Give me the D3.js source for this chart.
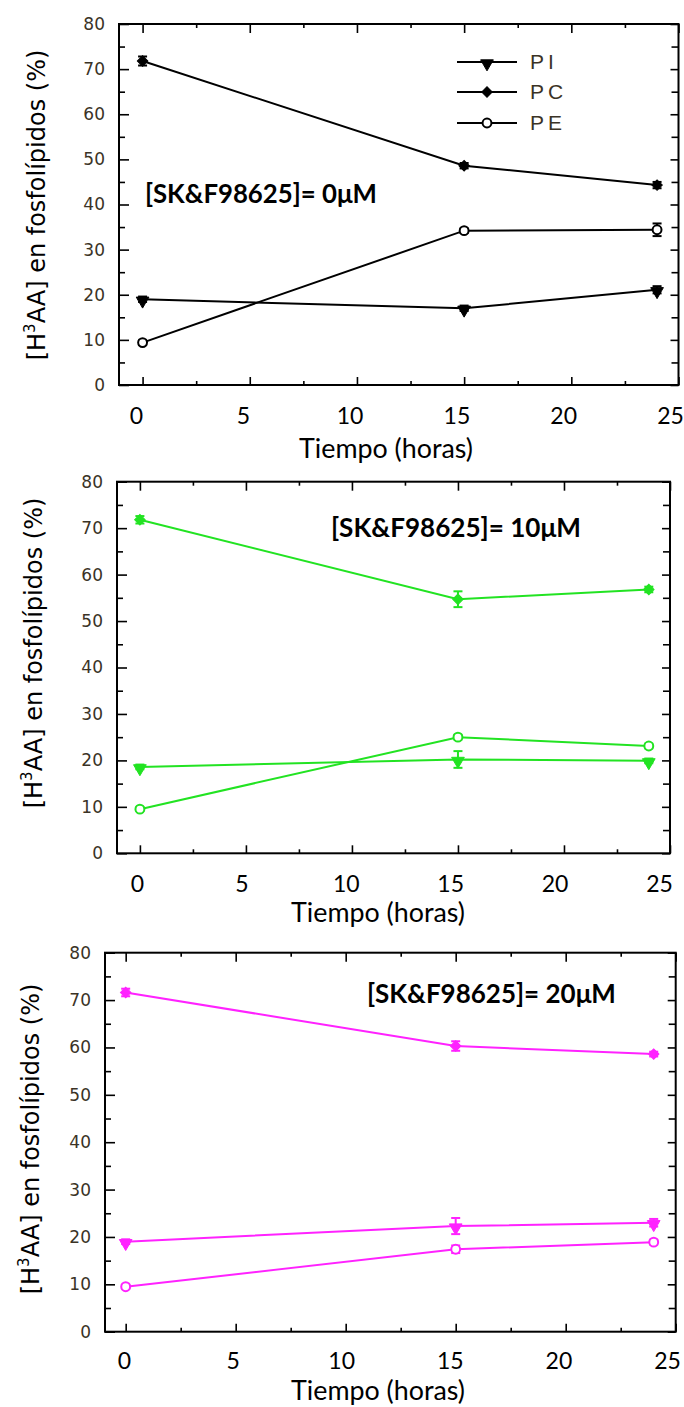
<!DOCTYPE html>
<html><head><meta charset="utf-8">
<script src="https://cdn.jsdelivr.net/npm/d3@7"></script>
<style>body{margin:0;background:#fff} svg{display:block}</style>
</head><body><svg id="c" width="684" height="1407"></svg>
<script>
// ---- data ----
const times = [0, 15, 24];
const seriesNames = ["PI", "PC", "PE"];
const concentrations = ["[SK&F98625]= 0μM", "[SK&F98625]= 10μM", "[SK&F98625]= 20μM"];
const yTicks = [0, 10, 20, 30, 40, 50, 60, 70, 80];
const yMinorTicks = [5, 15, 25, 35, 45, 55, 65, 75];
const xTicks = [0, 5, 10, 15, 20, 25];
const xMinorTicks = [2.5, 7.5, 12.5, 17.5, 22.5];
const xLabel = "Tiempo (horas)";

const pi0 = [19.0, 17.0, 21.1], pi0Err = [0.6, 0.6, 0.8];
const pc0 = [71.8, 48.6, 44.3], pc0Err = [1.0, 0.6, 0.7];
const pe0 = [9.4, 34.2, 34.4], pe0Err = [0.5, 0.5, 1.4];

const pi10 = [18.6, 20.2, 19.9], pi10Err = [0.5, 1.8, 0.5];
const pc10 = [71.8, 54.7, 56.8], pc10Err = [0.8, 1.7, 0.6];
const pe10 = [9.5, 25.0, 23.1], pe10Err = [0.4, 0.5, 0.5];

const pi20 = [19.0, 22.3, 23.0], pi20Err = [0.5, 1.7, 0.8];
const pc20 = [71.6, 60.3, 58.6], pc20Err = [0.8, 1.0, 0.5];
const pe20 = [9.5, 17.4, 18.9], pe20Err = [0.4, 0.8, 0.5];

// ---- layout ----
const panels = [
  {left: 119, right: 678.5, top: 24, bottom: 385, xmin: -1.1, color: "#000",
   vals: [pi0, pc0, pe0], errs: [pi0Err, pc0Err, pe0Err], conc: concentrations[0],
   ann: {x: 145, y: 203, w: 232}, lab: {x0: 136, x1: 670, y: 424},
   title: {x: 386, y: 458}, ytitle: {x: 45, y: 205}, legend: true},
  {left: 117, right: 670, top: 481.7, bottom: 853.3, xmin: -1.08, color: "#22e322",
   vals: [pi10, pc10, pe10], errs: [pi10Err, pc10Err, pe10Err], conc: concentrations[1],
   ann: {x: 331, y: 537, w: 250}, lab: {x0: 137, x1: 659, y: 892},
   title: {x: 378, y: 922}, ytitle: {x: 42, y: 653}, legend: false},
  {left: 105, right: 675.7, top: 952.7, bottom: 1331.7, xmin: -0.94, color: "#ff22ff",
   vals: [pi20, pc20, pe20], errs: [pi20Err, pc20Err, pe20Err], conc: concentrations[2],
   ann: {x: 367, y: 1003, w: 249}, lab: {x0: 124, x1: 667, y: 1369},
   title: {x: 378, y: 1400}, ytitle: {x: 39, y: 1139}, legend: false}
];

const svg = d3.select("#c");
const symbolFor = {
  PI: {type: d3.symbolTriangle, size: 70, rot: 180, fill: true},
  PC: {type: d3.symbolSquare, size: 55, rot: 45, fill: true},
  PE: {type: d3.symbolCircle, size: 62, rot: 0, fill: false}
};

function fitText(sel, target) {
  const node = sel.node();
  const fs = parseFloat(sel.attr("font-size"));
  const w = node.getComputedTextLength();
  if (w > 0) sel.attr("font-size", (fs * target / w).toFixed(2));
}

panels.forEach(p => {
  const x = d3.scaleLinear().domain([p.xmin, 25]).range([p.left, p.right]);
  const y = d3.scaleLinear().domain([0, 80]).range([p.bottom, p.top]);
  const xl = d3.scaleLinear().domain([0, 25]).range([p.lab.x0, p.lab.x1]);
  const g = svg.append("g");

  const tickStyle = s => { s.select(".domain").remove(); s.selectAll("line").attr("stroke", "#000").attr("stroke-width", 1.6); s.selectAll("text").remove(); };
  g.append("g").attr("transform", `translate(${p.left},0)`).call(d3.axisLeft(y).tickValues(yTicks).tickSize(-10)).call(tickStyle);
  g.append("g").attr("transform", `translate(${p.left},0)`).call(d3.axisLeft(y).tickValues(yMinorTicks).tickSize(-6)).call(tickStyle);
  g.append("g").attr("transform", `translate(${p.right},0)`).call(d3.axisRight(y).tickValues(yTicks).tickSize(-8)).call(tickStyle);
  g.append("g").attr("transform", `translate(${p.right},0)`).call(d3.axisRight(y).tickValues(yMinorTicks).tickSize(-7)).call(tickStyle);
  g.append("g").attr("transform", `translate(0,${p.bottom})`).call(d3.axisBottom(x).tickValues(xTicks).tickSize(-8)).call(tickStyle);
  g.append("g").attr("transform", `translate(0,${p.bottom})`).call(d3.axisBottom(x).tickValues(xMinorTicks).tickSize(-4)).call(tickStyle);
  g.append("g").attr("transform", `translate(0,${p.top})`).call(d3.axisTop(x).tickValues(xTicks).tickSize(-9)).call(tickStyle);
  g.append("g").attr("transform", `translate(0,${p.top})`).call(d3.axisTop(x).tickValues(xMinorTicks).tickSize(-4)).call(tickStyle);

  g.append("rect").attr("x", p.left).attr("y", p.top)
    .attr("width", p.right - p.left).attr("height", p.bottom - p.top)
    .attr("fill", "none").attr("stroke", "#000").attr("stroke-width", 2);

  const ya = g.append("g").attr("transform", `translate(${p.left},0)`)
    .call(d3.axisLeft(y).tickValues(yTicks).tickSize(0).tickPadding(14));
  ya.select(".domain").remove();
  ya.selectAll("text").attr("font-family", "DejaVu Sans").attr("font-size", 17).attr("fill", "#3b3326");

  const xa = g.append("g").attr("transform", `translate(0,${p.lab.y})`)
    .call(d3.axisBottom(xl).tickValues(xTicks).tickSize(0).tickPadding(0));
  xa.select(".domain").remove();
  xa.selectAll("text").attr("font-family", "Lato").attr("font-size", 23).attr("fill", "#000").attr("dy", 0);

  const xt = g.append("text").attr("x", p.title.x).attr("y", p.title.y)
    .attr("text-anchor", "middle").attr("font-family", "Lato").attr("font-size", 25).attr("fill", "#000")
    .text(xLabel);
  fitText(xt, 174);

  const yt = g.append("text").attr("transform", `translate(${p.ytitle.x},${p.ytitle.y}) rotate(-90)`)
    .attr("text-anchor", "middle").attr("font-family", "DejaVu Sans").attr("font-size", 24).attr("fill", "#000");
  yt.append("tspan").text("[H");
  yt.append("tspan").attr("font-size", 15).attr("dy", -10).text("3");
  yt.append("tspan").attr("dy", 10).text("AA] en fosfolípidos (%)");

  const an = g.append("text").attr("x", p.ann.x).attr("y", p.ann.y)
    .attr("font-family", "Lato").attr("font-weight", "bold").attr("font-size", 24).attr("fill", "#000")
    .text(p.conc);
  fitText(an, p.ann.w);

  const line = d3.line().x(d => x(d[0])).y(d => y(d[1]));
  seriesNames.forEach((name, i) => {
    const pts = times.map((t, j) => [t, p.vals[i][j], p.errs[i][j]]);
    const sg = g.append("g");
    sg.append("path").datum(pts).attr("d", line).attr("fill", "none")
      .attr("stroke", p.color).attr("stroke-width", 2);
    pts.forEach(d => {
      const cx = x(d[0]), y1 = y(d[1] + d[2]), y2 = y(d[1] - d[2]);
      sg.append("line").attr("x1", cx).attr("x2", cx).attr("y1", y1).attr("y2", y2).attr("stroke", p.color).attr("stroke-width", 2);
      [y1, y2].forEach(yy => sg.append("line").attr("x1", cx - 4.5).attr("x2", cx + 4.5).attr("y1", yy).attr("y2", yy).attr("stroke", p.color).attr("stroke-width", 2));
    });
    const s = symbolFor[name];
    sg.selectAll("path.m").data(pts).join("path").attr("class", "m")
      .attr("d", d3.symbol().type(s.type).size(s.size))
      .attr("transform", d => `translate(${x(d[0])},${y(d[1]) + (name === "PI" ? 1.5 : 0)}) rotate(${s.rot})`)
      .attr("fill", s.fill ? p.color : "#fff").attr("stroke", p.color).attr("stroke-width", s.fill ? 1 : 2);
  });

  if (p.legend) {
    const ly = [62, 92, 123];
    seriesNames.forEach((name, i) => {
      const lg = g.append("g");
      lg.append("line").attr("x1", 457).attr("x2", 517).attr("y1", ly[i]).attr("y2", ly[i]).attr("stroke", "#000").attr("stroke-width", 2);
      const s = symbolFor[name];
      lg.append("path").attr("d", d3.symbol().type(s.type).size(s.size)())
        .attr("transform", `translate(487,${ly[i] + (name === "PI" ? 1.5 : 0)}) rotate(${s.rot})`)
        .attr("fill", s.fill ? "#000" : "#fff").attr("stroke", "#000").attr("stroke-width", s.fill ? 1 : 2);
      lg.append("text").attr("x", 530).attr("y", ly[i] + 7).attr("font-family", "Liberation Sans")
        .attr("font-size", 21).attr("letter-spacing", 4).attr("fill", "#3b3326").text(name);
    });
  }
});
</script></body></html>
